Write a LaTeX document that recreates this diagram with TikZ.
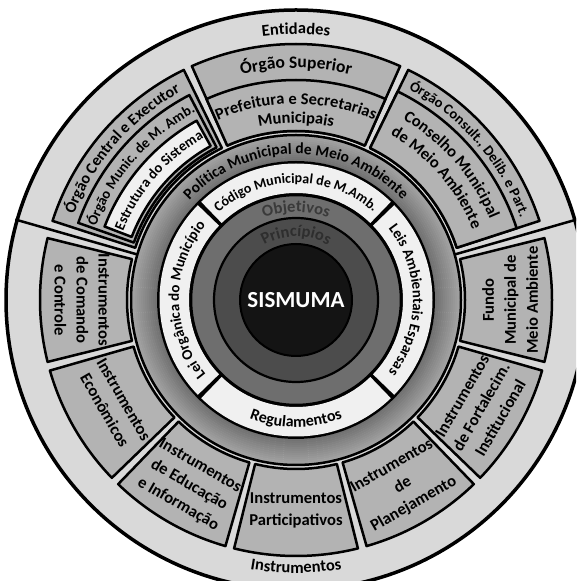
\documentclass[tikz,border=0pt]{standalone}
\usepackage{fontspec}
\setmainfont{Carlito}
\usetikzlibrary{decorations.text}

\definecolor{bandgray}{HTML}{D9D9D9}
\definecolor{cellgray}{HTML}{B3B3B3}
\definecolor{paper}{HTML}{F0F0F0}
\definecolor{objgray}{HTML}{6E6E6E}
\definecolor{prigray}{HTML}{4C4C4C}
\definecolor{coregray}{HTML}{141414}
\definecolor{objtext}{HTML}{3A3A3A}
\definecolor{pritext}{HTML}{2E2E2E}

\newcommand{\fsz}[1]{\bfseries\fontsize{#1}{22}\selectfont}
\newcommand{\sepcomma}{,}
\newcommand{\ringbox}[4]{(#1:#3) -- (#1:#4) arc[start angle=#1,end angle=#2,radius=#4] -- (#2:#3) arc[start angle=#2,end angle=#1,radius=#3] -- cycle}
% format, from, to, radius, text
\newcommand{\arctext}[5]{\path[decorate,decoration={text along path,text align=center,text={|#1|#5}}] (#2:#4) arc[start angle=#2,end angle=#3,radius=#4];}

\begin{document}
\begin{tikzpicture}[
  x=1pt,y=1pt,
  cell/.style={draw,line width=2.5pt,fill=cellgray,line join=round},
  lightcell/.style={cell,fill=paper},
  boxtext/.style={font=\fsz{16.6},align=center,inner sep=0pt}
]
  \useasboundingbox (0,0) rectangle (576,581);
  \clip (0,0) rectangle (576,581);
  \begin{scope}[shift={(296,281)}]
  % outer band
  \draw[fill=bandgray,line width=3.5pt] (0,0) circle (290);
  \draw[line width=2.5pt] (16:165) -- (16:292) (164:165) -- (164:292);

  % entidades
  \draw[cell] \ringbox{18}{64}{169}{256};
  \draw[cell] \ringbox{18}{64}{169}{232};
  \draw[cell] \ringbox{66}{114}{169}{256};
  \draw[cell] \ringbox{66}{114}{169}{220};
  \draw[cell] \ringbox{116}{162}{169}{256};
  \draw[cell] \ringbox{117.5}{160.5}{172}{231};
  \draw[lightcell] \ringbox{119}{159}{176}{205};

  % instrumentos
  \foreach \a [evaluate=\a as \lo using \a-14, evaluate=\a as \hi using \a+14] in {180,210,...,360}
    \draw[cell] \ringbox{\lo}{\hi}{169}{256};

  % politica ring
  \foreach \r [evaluate=\r as \k using 56-(\r-139)*0.8] in {140,142,...,164}
    \draw[black!\k,line width=2.4pt] (0,0) circle (\r);
  \draw[line width=2.5pt] (0,0) circle (165);
  \fill (0,0) circle (139);
  \foreach \lo/\hi in {-44/44,46/134,136/224,226/314}
    \fill[paper] \ringbox{\lo}{\hi}{107}{136.5};

  \draw[fill=objgray,line width=2.5pt] (0,0) circle (105);
  \draw[fill=prigray,line width=2.2pt] (0,0) circle (82);
  \draw[fill=coregray,line width=2pt] (0,0) circle (56);
  \node[font=\fsz{23},text=white] (core) at (0,0) {SISMUMA};

  % ring labels
  \arctext{\fsz{16.5}}{150}{30}{266}{Entidades}
  \arctext{\fsz{16.5}}{210}{330}{273}{Instrumentos}
  \arctext{\fsz{15.5}}{150}{30}{146}{Política Municipal de Meio Ambiente}
  \arctext{\fsz{14}}{150}{30}{117}{Código Municipal de M.Amb.}
  \arctext{\fsz{15}}{60}{-60}{117}{Leis Ambientais Esparsas}
  \arctext{\fsz{15}}{240}{120}{117}{Lei Orgânica do Município}
  \arctext{\fsz{16}}{210}{330}{127}{Regulamentos}
  \arctext{\fsz{16.5}\color{objtext}}{150}{30}{88}{Objetivos}
  \arctext{\fsz{16.5}\color{pritext}}{150}{30}{63.5}{Princípios}

  % entidades labels
  \arctext{\fsz{14.5}}{81}{1}{239}{Órgão Consult.\sepcomma{} Delib. e Part.}
  \arctext{\fsz{16.5}}{81}{1}{210}{Conselho Municipal}
  \arctext{\fsz{16.5}}{81}{1}{190}{de Meio Ambiente}
  \arctext{\fsz{17.5}}{130}{50}{232}{Órgão Superior}
  \arctext{\fsz{16.5}}{130}{50}{196}{Prefeitura e Secretarias}
  \arctext{\fsz{16.5}}{130}{50}{177}{Municipais}
  \arctext{\fsz{16}}{179}{99}{238}{Órgão Central e Executor}
  \arctext{\fsz{14.5}}{179}{99}{213}{Órgão Munic. de M. Amb.}
  \arctext{\fsz{14.5}}{179}{99}{186}{Estrutura do Sistema}

  % instrumentos labels
  \foreach \a/\rr/\nm/\txt in {
      180/214/comando/{Instrumentos\\de Comando\\e Controle},
      210/210/economicos/{Instrumentos\\Econômicos},
      240/214/educacao/{Instrumentos\\de Educação\\e Informação},
      270/210/participativos/{Instrumentos\\Participativos},
      300/214/planejamento/{Instrumentos\\de\\Planejamento},
      330/214/fortalecimento/{Instrumentos\\de Fortalecim.\\Institucional},
      360/214/fundo/{Fundo\\Municipal de\\Meio Ambiente}}
    \node[boxtext,rotate=\a+90] (\nm) at (\a:\rr) {\txt};
  \end{scope}
\end{tikzpicture}
\end{document}
